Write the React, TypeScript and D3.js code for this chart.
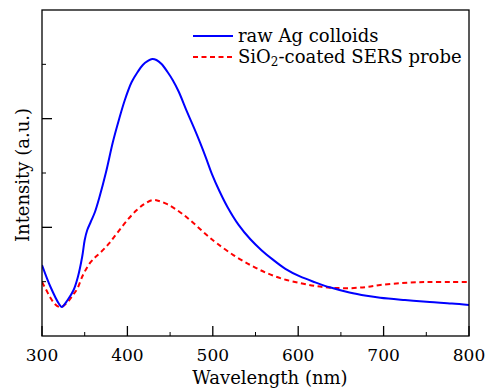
import React from "react";
import * as d3 from "d3";

const wlBlue = [300,310,320,323,330,337,342,347,350,353,357,362,367,375,383,390,397,405,412,418,424,429,434,440,447,453,460,470,478,485,492,499,508,517,530,544,557,570,585,602,620,637,660,680,696,725,754,780,800];
const rawAg = [0.653,0.451,0.294,0.267,0.331,0.423,0.543,0.727,0.883,0.975,1.049,1.141,1.270,1.509,1.785,1.988,2.172,2.337,2.429,2.494,2.531,2.549,2.540,2.503,2.429,2.356,2.250,2.060,1.915,1.782,1.640,1.490,1.330,1.190,1.025,0.890,0.790,0.705,0.618,0.548,0.494,0.448,0.400,0.370,0.352,0.331,0.313,0.299,0.285];

const wlRed = [300,305,310,315,320,323,330,337,341,348,356,362,368,378,388,400,411,420,429,436,446,455,465,475,485,495,505,524,544,563,582,602,620,637,660,680,696,720,740,754,780,800];
const sio2Probe = [0.497,0.423,0.350,0.294,0.267,0.267,0.313,0.386,0.430,0.561,0.670,0.722,0.764,0.847,0.948,1.067,1.159,1.215,1.250,1.245,1.215,1.175,1.120,1.055,0.985,0.915,0.852,0.745,0.653,0.580,0.525,0.488,0.460,0.445,0.440,0.451,0.469,0.486,0.495,0.497,0.497,0.497];

const xMajor = [300,400,500,600,700,800];
const xMinor = [350,450,550,650,750];
const yMajor = [1,2];
const yMinor = [0.5,1.5,2.5];

export default function App() {
  const W = 487, H = 390;
  const L = 42, R = 469, T = 10, B = 336;
  const x = d3.scaleLinear().domain([300, 800]).range([L, R]);
  const y = d3.scaleLinear().domain([0, 3]).range([B, T]);
  const line = d3.line<[number, number]>().x(d => x(d[0])).y(d => y(d[1])).curve(d3.curveCatmullRom);
  const blue = line(wlBlue.map((w, i) => [w, rawAg[i]] as [number, number])) || "";
  const red = line(wlRed.map((w, i) => [w, sio2Probe[i]] as [number, number])) || "";
  const font = "'DejaVu Serif', 'Liberation Serif', 'Noto Serif', serif";
  return (
    <svg width={W} height={H} style={{ position: "absolute", left: 0, top: 0, fontFamily: font }}>
      <rect x={0} y={0} width={W} height={H} fill="#fff" />
      <defs>
        <clipPath id="plot"><rect x={L} y={T} width={R - L} height={B - T} /></clipPath>
      </defs>
      <g clipPath="url(#plot)">
        <path d={red} fill="none" stroke="#ff0000" strokeWidth={2} strokeDasharray="5,3.5" />
        <path d={blue} fill="none" stroke="#0000ff" strokeWidth={2} />
      </g>
      <rect x={L} y={T} width={R - L} height={B - T} fill="none" stroke="#000" strokeWidth={1.3} />
      {xMajor.map(v => (
        <g key={"xm" + v}>
          <line x1={x(v)} x2={x(v)} y1={B} y2={B - 10} stroke="#000" strokeWidth={1.3} />
          <text x={x(v)} y={361} textAnchor="middle" style={{ fontFamily: font, fontSize: 17 }}>{v}</text>
        </g>
      ))}
      {xMinor.map(v => (
        <line key={"xn" + v} x1={x(v)} x2={x(v)} y1={B} y2={B - 4} stroke="#000" strokeWidth={1} />
      ))}
      {yMajor.map(v => (
        <line key={"ym" + v} x1={L} x2={L + 10} y1={y(v)} y2={y(v)} stroke="#000" strokeWidth={1.3} />
      ))}
      {yMinor.map(v => (
        <line key={"yn" + v} x1={L} x2={L + 4} y1={y(v)} y2={y(v)} stroke="#000" strokeWidth={1} />
      ))}
      <text x={270} y={384} textAnchor="middle" style={{ fontFamily: font, fontSize: 18 }}>Wavelength (nm)</text>
      <text transform={`translate(29,${(T + B) / 2 + 2}) rotate(-90)`} textAnchor="middle" style={{ fontFamily: font, fontSize: 18 }}>Intensity (a.u.)</text>
      <line x1={193} x2={233} y1={36} y2={36} stroke="#0000ff" strokeWidth={2} />
      <text x={238} y={42} style={{ fontFamily: font, fontSize: 18 }}>raw Ag colloids</text>
      <line x1={193} x2={233} y1={57} y2={57} stroke="#ff0000" strokeWidth={2} strokeDasharray="5,3.5" />
      <text x={238} y={63} style={{ fontFamily: font, fontSize: 18 }}>SiO<tspan style={{ fontSize: 12 }} dy={3}>2</tspan><tspan dy={-3}>-coated SERS probe</tspan></text>
    </svg>
  );
}
